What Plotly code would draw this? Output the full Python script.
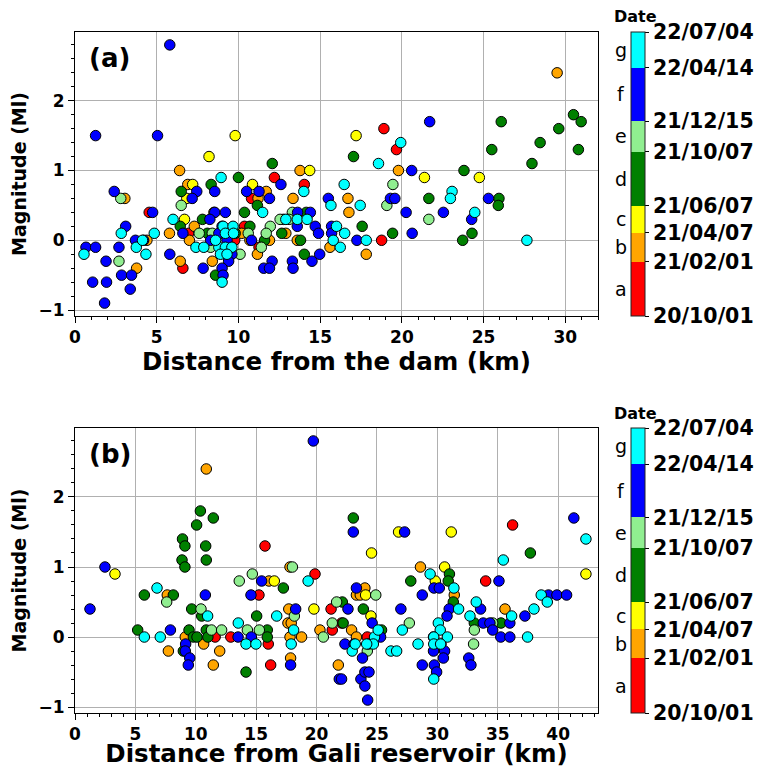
import pandas as pd
import plotly.graph_objects as go

# ---------------- data ----------------
period_labels = ["a", "b", "c", "d", "e", "f", "g"]
period_colors = ["#ff0000", "#ffa500", "#ffff00", "#008000", "#90ee90", "#0000ff", "#00ffff"]
boundary_dates = ["2020-10-01", "2021-02-01", "2021-04-07", "2021-06-07",
                  "2021-10-07", "2021-12-15", "2022-04-14", "2022-07-04"]
boundary_text = ["20/10/01", "21/02/01", "21/04/07", "21/06/07",
                 "21/10/07", "21/12/15", "22/04/14", "22/07/04"]

# Panel (a): distance from the dam (km) / magnitude, by period
dam_a_x = [12.2, 14.03, 10.8, 4.54, 10.37, 6.95, 9.77, 11.26, 6.6, 18.9, 19.67, 18.76]
dam_a_y = [0.9, 0.8, 0.6, 0.4, 0.2, 0.1, 0.0, -0.1, -0.4, 1.6, 1.3, 0.0]
dam_b_x = [6.4, 13.77, 6.9, 11.7, 3.05, 11.2, 13.34, 8.5, 7.3, 5.78, 12.9, 4.4, 7.0, 10.7, 11.9, 13.6,
           11.16, 8.4, 6.44, 3.77, 15.6, 29.5, 19.79, 16.7, 16.76, 17.82, 10.2]
dam_b_y = [1.0, 1.0, 0.8, 0.7, 0.6, 0.6, 0.6, 0.4, 0.2, 0.1, 0.1, 0.0, 0.0, 0.0, 0.0, 0.0,
           -0.2, -0.3, -0.3, -0.4, -0.1, 2.4, 1.0, 0.6, 0.4, -0.2, 0.1]
dam_c_x = [9.8, 8.2, 14.36, 7.2, 10.86, 6.84, 6.7, 8.9, 17.2, 21.38, 24.74]
dam_c_y = [1.5, 1.2, 1.0, 0.8, 0.8, 0.6, 0.3, 0.1, 1.5, 0.9, 0.9]
dam_d_x = [12.07, 10.0, 8.33, 6.5, 11.16, 10.37, 14.15, 7.8, 12.75, 6.44, 10.7, 8.1, 9.8, 12.65, 13.8,
           14.03, 8.6, 17.04, 30.5, 30.97, 29.6, 28.46, 30.8, 26.08, 25.5, 27.96, 23.8, 21.65, 25.94,
           25.9, 17.57, 19.43, 24.29, 23.72, 11.6]
dam_d_y = [1.1, 0.9, 0.8, 0.7, 0.5, 0.4, 0.4, 0.3, 0.3, 0.2, 0.2, 0.1, 0.1, 0.1, 0.0,
           -0.2, -0.5, 1.2, 1.8, 1.7, 1.6, 1.4, 1.3, 1.7, 1.3, 1.1, 1.0, 0.6, 0.6,
           0.5, 0.2, 0.1, 0.1, 0.0, 0.0]
dam_e_x = [2.8, 6.5, 13.3, 12.55, 11.95, 7.6, 8.4, 10.6, 11.7, 8.3, 10.1, 11.4, 2.69, 19.45, 19.08, 21.65, 13.1]
dam_e_y = [0.6, 0.5, 0.4, 0.3, 0.2, 0.1, 0.1, 0.1, 0.1, -0.1, -0.2, -0.1, -0.3, 0.8, 0.5, 0.3, 0.3]
dam_f_x = [5.8, 1.26, 5.05, 2.4, 7.45, 8.55, 10.5, 11.26, 12.6, 7.17, 11.9, 15.5, 4.75, 8.55, 9.2,
           13.62, 14.4, 8.25, 3.1, 9.0, 13.6, 14.7, 15.7, 6.6, 8.8, 14.9, 15.7, 0.67, 1.26, 2.69,
           3.7, 4.2, 8.3, 9.3, 10.8, 5.8, 9.2, 9.6, 9.4, 12.06, 13.3, 14.5, 14.97, 7.84, 11.55,
           11.9, 13.34, 9.0, 9.06, 2.85, 3.46, 1.9, 1.08, 1.93, 3.38, 1.81, 21.7, 20.6, 19.3, 19.57,
           25.3, 20.26, 22.54, 24.27, 20.63, 17.25]
dam_f_y = [2.8, 1.5, 1.5, 0.7, 0.7, 0.7, 0.7, 0.7, 0.8, 0.6, 0.6, 0.6, 0.4, 0.4, 0.4,
           0.4, 0.4, 0.3, 0.2, 0.2, 0.2, 0.2, 0.2, 0.1, 0.1, 0.1, 0.1, -0.1, -0.1, -0.1,
           0.0, 0.0, 0.0, 0.0, 0.0, -0.2, -0.2, -0.2, -0.3, -0.3, -0.3, -0.3, -0.2, -0.4, -0.4,
           -0.4, -0.4, -0.4, -0.5, -0.5, -0.5, -0.3, -0.6, -0.6, -0.7, -0.9, 1.7, 1.0, 0.6, 0.6,
           0.6, 0.4, 0.4, 0.3, 0.1, 0.0]
dam_g_x = [0.55, 2.83, 3.75, 4.13, 4.34, 4.85, 6.0, 8.94, 14.0, 15.66, 11.48, 9.06, 9.67, 12.9, 13.6,
           14.2, 9.2, 9.7, 7.4, 7.88, 8.8, 9.2, 9.6, 8.9, 9.3, 9.0, 16.0, 16.47, 23.07, 22.97,
           17.45, 24.46, 16.5, 17.82, 27.65, 16.23, 18.57, 19.93, 15.8, 8.6]
dam_g_y = [-0.2, 0.1, -0.1, 0.0, -0.2, 0.1, 0.3, 0.9, 0.7, 0.5, 0.4, 0.2, 0.2, 0.3, 0.3,
           0.3, 0.1, 0.1, -0.1, -0.1, -0.1, -0.1, -0.1, -0.2, -0.2, -0.6, 0.2, 0.8, 0.7, 0.6,
           0.5, 0.4, 0.1, 0.0, 0.0, -0.1, 1.1, 1.4, 0.0, 0.0]

# Panel (b): distance from Gali reservoir (km) / magnitude, by period
gali_a_x = [11.6, 12.9, 15.23, 16.0, 16.2, 15.73, 19.87, 21.2, 21.3, 22.07, 24.2, 34.0, 36.23]
gali_a_y = [0.0, 0.0, 0.6, -0.1, -0.4, 1.3, 0.9, 0.4, 0.1, 0.2, 0.0, 0.8, 1.6]
gali_b_x = [7.64, 7.73, 9.13, 10.87, 10.65, 11.98, 11.45, 16.06, 17.8, 17.7, 17.63, 17.9, 17.8, 17.85,
            18.76, 20.28, 21.8, 22.9, 23.3, 23.3, 23.62, 24.0, 28.6, 31.4, 35.6]
gali_b_y = [0.6, -0.2, 0.0, 2.4, -0.1, -0.2, -0.4, 0.8, 1.0, 0.4, 0.2, 0.2, 0.0, -0.3,
            0.0, 0.1, -0.4, 0.1, 0.0, 0.6, 0.6, 0.7, 1.0, 0.6, 0.4]
gali_c_x = [3.31, 16.5, 19.78, 24.06, 24.5, 24.55, 26.79, 31.15, 30.6, 29.83, 42.3]
gali_c_y = [0.9, 0.8, 0.4, 0.6, 0.3, 1.2, 1.5, 1.5, 1.0, 0.8, 0.9]
gali_d_x = [5.19, 5.74, 8.14, 8.9, 9.1, 8.86, 9.1, 9.66, 9.44, 8.97, 10.07, 10.38, 11.45, 10.82, 10.87,
            10.49, 9.8, 10.1, 10.87, 11.0, 14.16, 15.04, 15.92, 15.92, 17.25, 22.2, 22.13, 23.87, 23.04,
            25.38, 27.8, 31.0, 30.9, 31.32, 33.06, 35.27, 37.7]
gali_d_y = [0.1, 0.6, 0.6, 1.4, 1.3, 1.1, 1.0, 0.4, 0.1, -0.2, 1.6, 1.8, 1.7, 1.3, 1.1,
            0.3, 0.0, 0.0, 0.1, 0.0, -0.5, 0.3, 0.1, 0.0, 0.7, 0.2, 0.5, 0.4, 1.7,
            0.1, 0.8, 0.9, 0.8, 0.5, 0.2, 0.2, 1.2]
gali_e_x = [7.59, 10.43, 11.3, 12.14, 13.6, 14.27, 14.68, 15.26, 18.0, 18.16, 20.56, 21.3, 21.66, 24.9,
            24.2, 27.68, 33.06, 34.58, 33.0]
gali_e_y = [0.5, 0.4, 0.1, 0.1, 0.8, 0.1, 0.9, 0.1, 1.0, 0.3, 0.0, 0.2, 0.5, 0.6,
            -0.2, 0.2, 0.1, 0.2, -0.1]
gali_f_x = [1.24, 2.48, 7.9, 9.16, 9.13, 9.5, 9.38, 10.79, 13.5, 14.6, 14.57, 15.45, 18.27, 17.85, 19.73,
            21.88, 22.6, 23.3, 24.6, 25.3, 22.35, 23.1, 23.8, 24.3, 22.07, 23.67, 24.0, 24.34, 24.0, 24.23,
            23.04, 27.29, 26.98, 28.75, 29.72, 30.16, 30.98, 30.8, 33.58, 33.8, 34.35, 35.1, 34.58, 35.25,
            36.0, 36.0, 37.25, 39.2, 39.9, 40.7, 41.3, 29.68, 30.3, 30.6, 30.5, 29.68, 28.75, 29.75, 29.94,
            32.6, 32.78]
gali_f_y = [0.4, 1.0, 0.1, -0.1, -0.2, -0.3, -0.4, 0.6, 0.0, 0.0, 0.6, 0.8, 0.4, -0.4, 2.8,
            -0.6, 0.4, 0.7, 0.2, 0.0, -0.1, -0.1, -0.3, -0.1, -0.6, -0.6, -0.5, -0.5, -0.7, -0.9,
            1.5, 1.5, 0.4, 0.6, 0.7, 0.7, 0.4, 0.3, 0.4, 0.2, 0.2, 0.8, 0.1, 0.0,
            0.0, 0.2, 0.3, 0.6, 0.6, 0.6, 1.7, 0.0, -0.1, -0.2, -0.3, -0.2, -0.4, -0.4, -0.5,
            -0.3, -0.4]
gali_g_x = [5.74, 6.79, 7.06, 10.98, 13.52, 14.16, 14.98, 18.1, 17.9, 19.3, 16.7, 22.95, 24.8, 25.1, 24.7,
            24.15, 26.16, 26.63, 27.1, 28.4, 29.4, 31.37, 31.76, 32.7, 33.22, 30.08, 30.24, 29.7, 30.83,
            29.7, 30.27, 29.7, 35.46, 36.15, 37.47, 38.0, 38.6, 39.1, 42.3, 23.2]
gali_g_y = [0.0, 0.7, 0.0, 0.3, 0.2, -0.1, -0.1, 0.1, -0.1, 0.8, 0.3, -0.2, 0.0, 0.1, -0.1,
            -0.1, -0.2, -0.2, 0.1, -0.1, 0.9, 0.7, 0.4, 0.3, 0.5, 0.2, 0.1, 0.0, 0.0,
            -0.1, -0.1, -0.6, 1.1, 0.3, 0.0, 0.4, 0.6, 0.5, 1.4, -0.1]

dam_x = [dam_a_x, dam_b_x, dam_c_x, dam_d_x, dam_e_x, dam_f_x, dam_g_x]
dam_y = [dam_a_y, dam_b_y, dam_c_y, dam_d_y, dam_e_y, dam_f_y, dam_g_y]
gali_x = [gali_a_x, gali_b_x, gali_c_x, gali_d_x, gali_e_x, gali_f_x, gali_g_x]
gali_y = [gali_a_y, gali_b_y, gali_c_y, gali_d_y, gali_e_y, gali_f_y, gali_g_y]

# ---------------- colour scale from dates ----------------
bd = pd.to_datetime(boundary_dates)
days = [(d - bd[0]).days for d in bd]
total = days[-1]
mids = [(days[i] + days[i + 1]) / 2 for i in range(7)]
cscale = []
for i, c in enumerate(period_colors):
    cscale.append([days[i] / total, c])
    cscale.append([days[i + 1] / total, c])

FONT = "DejaVu Sans"
W, H = 765, 768
PLOT_L, PLOT_R = 75, 598
PANELS = [(32, 316), (428, 713)]


def flatten(xs, ys):
    X, Y, C = [], [], []
    for i in range(7):
        X += xs[i]
        Y += ys[i]
        C += [mids[i]] * len(xs[i])
    return X, Y, C


fig = go.Figure()

for k, (xs, ys) in enumerate([(dam_x, dam_y), (gali_x, gali_y)]):
    X, Y, C = flatten(xs, ys)
    top, bot = PANELS[k]
    suffix = "" if k == 0 else "2"
    fig.add_trace(go.Scatter(
        x=X, y=Y, mode="markers",
        xaxis="x" + suffix, yaxis="y" + suffix,
        marker=dict(size=10.5, color=C, colorscale=cscale, cmin=0, cmax=total,
                    line=dict(color="black", width=1),
                    colorbar=dict(
                        x=631 / W, xanchor="left", xpad=0,
                        y=1 - top / H, yanchor="top", ypad=0,
                        len=bot - top, lenmode="pixels",
                        thickness=14, thicknessmode="pixels",
                        outlinewidth=1, outlinecolor="#222",
                        tickvals=days, ticktext=boundary_text,
                        ticks="outside", ticklen=4, tickcolor="black",
                        tickfont=dict(family=FONT, size=20.5, color="black", weight="bold"),
                    )),
        showlegend=False, hoverinfo="x+y",
    ))
    # period letters and "Date" title
    for i, lab in enumerate(period_labels):
        ypix = bot - (mids[i] / total) * (bot - top)
        fig.add_annotation(x=621 / W, y=1 - ypix / H, xref="paper", yref="paper",
                           text=lab, showarrow=False, xanchor="center", yanchor="middle",
                           font=dict(family=FONT, size=19, color="black"))
    fig.add_annotation(x=612 / W, y=1 - (top - 15) / H, xref="paper", yref="paper",
                       text="<b>Date</b>", showarrow=False, xanchor="left", yanchor="middle",
                       font=dict(family=FONT, size=16, color="black"))
    fig.add_annotation(x=87 / W, y=1 - (top + 26) / H, xref="paper", yref="paper",
                       text="<b>(%s)</b>" % ("a" if k == 0 else "b"), showarrow=False,
                       xanchor="left", yanchor="middle",
                       font=dict(family=FONT, size=26, color="black"))

axis_common = dict(
    showline=True, mirror=True, linecolor="black", linewidth=1,
    ticks="outside", ticklen=6, tickwidth=1, tickcolor="black",
    showgrid=True, gridcolor="#b0b0b0", gridwidth=1, zeroline=False,
    tickfont=dict(family=FONT, size=17, color="black", weight="bold"),
    automargin=False,
)

xdom = [PLOT_L / W, PLOT_R / W]
fig.update_layout(
    width=W, height=H,
    margin=dict(l=0, r=0, t=0, b=0),
    paper_bgcolor="white", plot_bgcolor="white",
    font=dict(family=FONT, color="black"),
    xaxis=dict(axis_common, domain=xdom, anchor="y", range=[0, 32], dtick=5,
               minor=dict(dtick=1, ticks="outside", ticklen=3, tickcolor="black", showgrid=False),
               title=dict(text="<b>Distance from the dam (km)</b>", standoff=6,
                          font=dict(family=FONT, size=24.5, color="black"))),
    yaxis=dict(axis_common, domain=[1 - PANELS[0][1] / H, 1 - PANELS[0][0] / H], anchor="x",
               range=[-1.085, 2.985], tickvals=[-1, 0, 1, 2],
               minor=dict(dtick=0.2, ticks="outside", ticklen=3, tickcolor="black", showgrid=False),
               title=dict(text="<b>Magnitude (Ml)</b>", standoff=6,
                          font=dict(family=FONT, size=19, color="black"))),
    xaxis2=dict(axis_common, domain=xdom, anchor="y2", range=[0, 43.3], dtick=5,
                minor=dict(dtick=1, ticks="outside", ticklen=3, tickcolor="black", showgrid=False),
                title=dict(text="<b>Distance from Gali reservoir (km)</b>", standoff=9,
                           font=dict(family=FONT, size=24.5, color="black"))),
    yaxis2=dict(axis_common, domain=[1 - PANELS[1][1] / H, 1 - PANELS[1][0] / H], anchor="x2",
                range=[-1.085, 2.985], tickvals=[-1, 0, 1, 2],
                minor=dict(dtick=0.2, ticks="outside", ticklen=3, tickcolor="black", showgrid=False),
                title=dict(text="<b>Magnitude (Ml)</b>", standoff=6,
                           font=dict(family=FONT, size=19, color="black"))),
)

fig.write_html("out.html")
